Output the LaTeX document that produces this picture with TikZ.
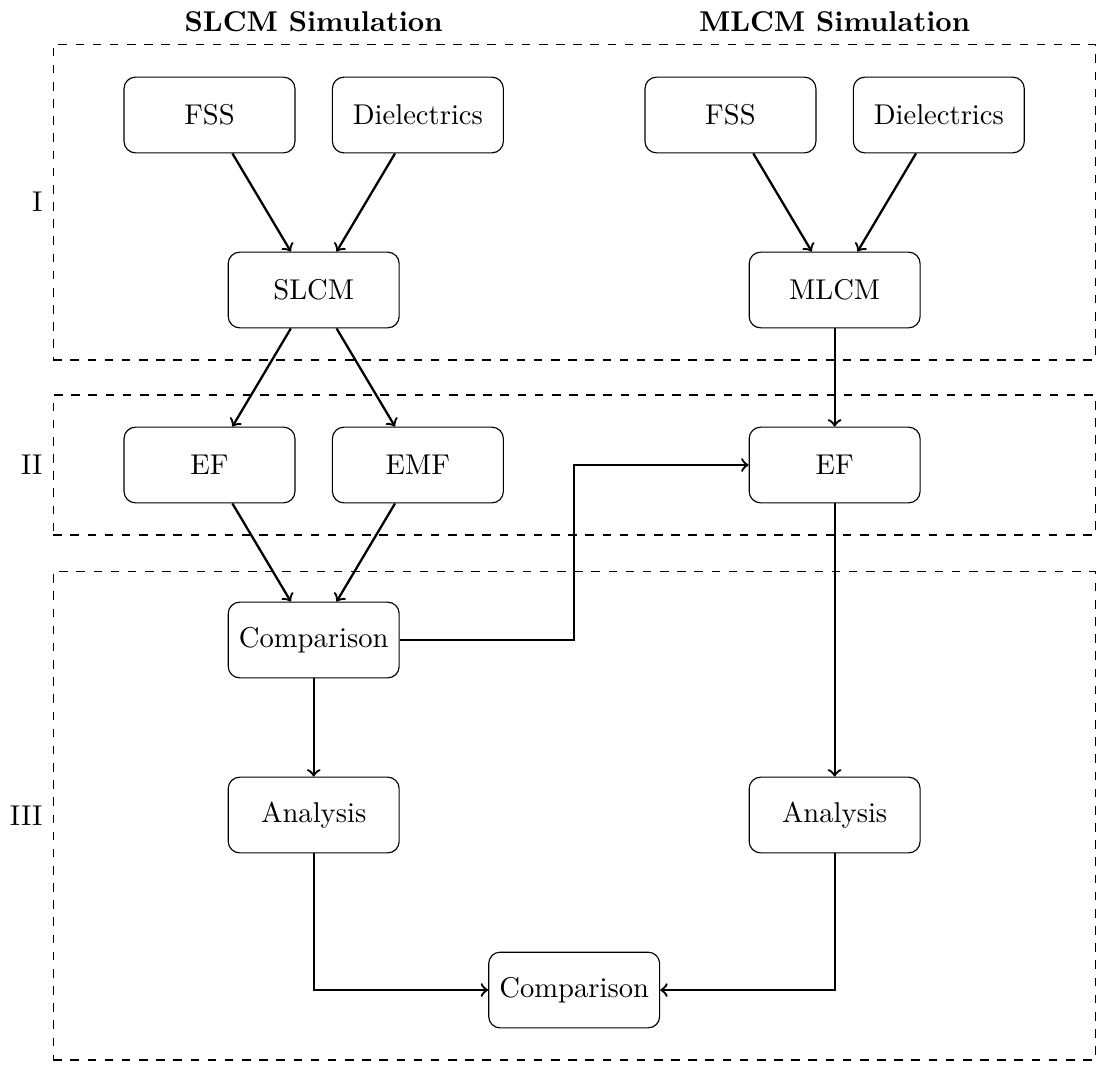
\documentclass[tikz,border=0pt]{standalone}
\usepackage{amsmath}
\usetikzlibrary{positioning}
\def\rowsep{2.15cm}
\def\colsep{6.4cm}
\def\pairsep{1.28cm}
\tikzset{
	block/.style={draw,rectangle,rounded corners,minimum width=2.1cm,minimum height=0.93cm},
	region/.style={draw,dashed,rectangle,minimum width=2*\colsep},
	flow/.style={->,thick}
}
\newcommand{\blocknode}[4]{\node[block] (#3) at (#1,#2) {#4};}
\newcommand{\regionnode}[5]{\node[region,minimum height=#3] (#4) at (\colsep/2,#2) {};
	\node[left=0cm of #4] (#5) {#1};}
\begin{document}
\begin{tikzpicture}
				\useasboundingbox (-3.854,-9.51) rectangle (9.623,3.563);

				\regionnode{I}{1.08cm}{3.88cm}{regI}{labI}
				\regionnode{II}{-\rowsep}{1.72cm}{regII}{labII}
				\regionnode{III}{-6.46cm}{6cm}{regIII}{labIII}

				\node[font=\bfseries] (hdrL) at (0,3.3) {SLCM Simulation};
				\node[font=\bfseries] (hdrR) at (\colsep,3.3) {MLCM Simulation};

				\blocknode{-\pairsep}{\rowsep}{FSSl}{FSS}
				\blocknode{\pairsep}{\rowsep}{DIl}{Dielectrics}
				\blocknode{0}{0}{SLCM}{SLCM}
				\blocknode{-\pairsep}{-\rowsep}{EFl}{EF}
				\blocknode{\pairsep}{-\rowsep}{EMF}{EMF}
				\blocknode{0}{-2*\rowsep}{CMPl}{Comparison}
				\blocknode{0}{-3*\rowsep}{ANl}{Analysis}
				\blocknode{\colsep-\pairsep}{\rowsep}{FSSr}{FSS}
				\blocknode{\colsep+\pairsep}{\rowsep}{DIr}{Dielectrics}
				\blocknode{\colsep}{0}{MLCM}{MLCM}
				\blocknode{\colsep}{-\rowsep}{EFr}{EF}
				\blocknode{\colsep}{-3*\rowsep}{ANr}{Analysis}
				\blocknode{\colsep/2}{-4*\rowsep}{CMP}{Comparison}

				\draw[flow] (FSSl) -- (SLCM);
				\draw[flow] (DIl) -- (SLCM);
				\draw[flow] (SLCM) -- (EFl);
				\draw[flow] (SLCM) -- (EMF);
				\draw[flow] (FSSr) -- (MLCM);
				\draw[flow] (DIr) -- (MLCM);
				\draw[flow] (MLCM) -- (EFr);
				\draw[flow] (EFl) -- (CMPl);
				\draw[flow] (EMF) -- (CMPl);
				\draw[flow] (CMPl.east) -- (CMPl.east -| CMP) |- (EFr.west);
				\draw[flow] (CMPl) -- (ANl);
				\draw[flow] (EFr) -- (ANr);
				\draw[flow] (ANl) |- (CMP);
				\draw[flow] (ANr) |- (CMP);
			\end{tikzpicture}
\end{document}
